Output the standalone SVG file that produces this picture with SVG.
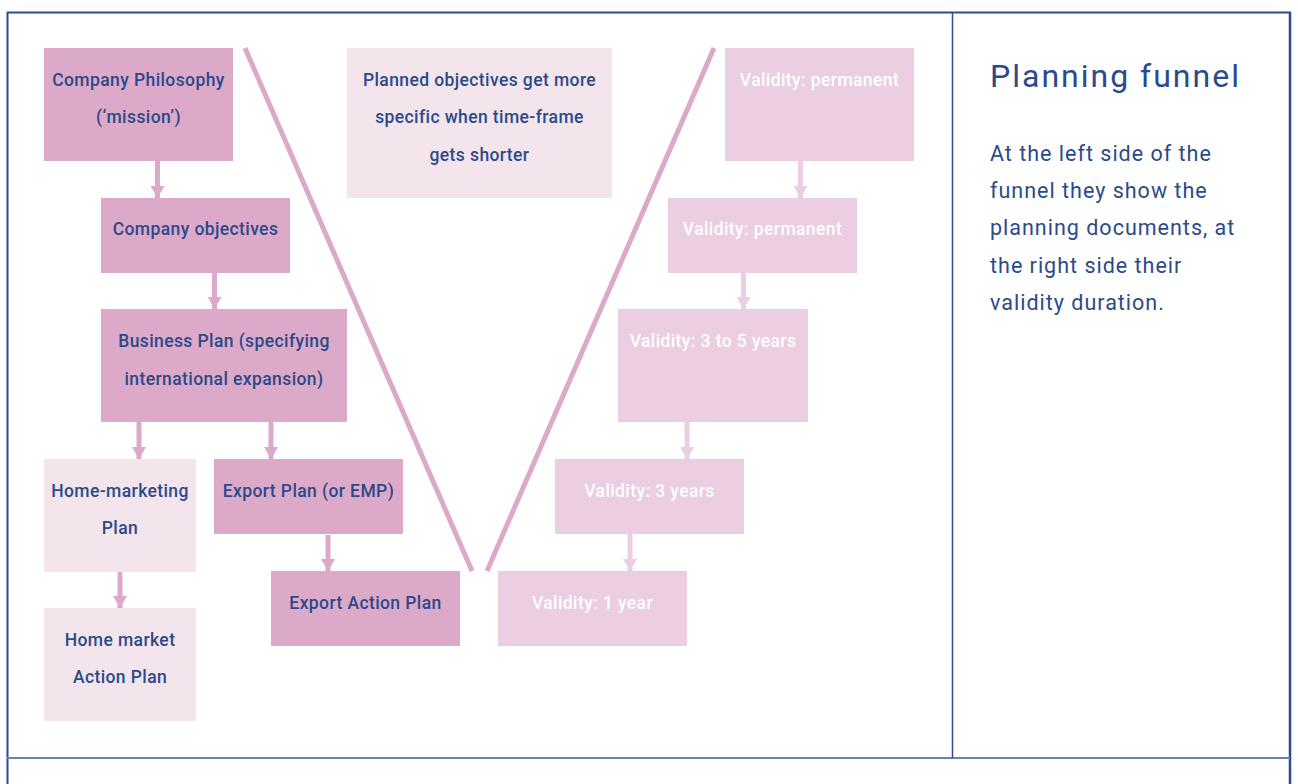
<svg xmlns="http://www.w3.org/2000/svg" width="1298" height="784" viewBox="0 0 1298 784">
<defs>
<style>
.dark{fill:#dda9c8}
.light{fill:#f4e5ed}
.mid{fill:#ebcee1}
.t{font-family:Roboto,"Liberation Sans",sans-serif;font-weight:500;font-size:17.5px;letter-spacing:0.4px;fill:#2b4a89;text-anchor:middle}
.w{font-family:Roboto,"Liberation Sans",sans-serif;font-weight:500;font-size:17.5px;letter-spacing:0.4px;fill:#ffffff;text-anchor:middle}
.side{font-family:Roboto,"Liberation Sans",sans-serif;font-size:21.5px;letter-spacing:1px;fill:#2b4a89}
.title{font-family:Roboto,"Liberation Sans",sans-serif;font-size:32px;letter-spacing:2px;fill:#2b4a89}
.sh{stroke:#dda9c8;stroke-width:5;fill:none}
.shm{stroke:#ebcee1;stroke-width:5;fill:none}
</style>
<marker id="ah" viewBox="0 0 12 14" refX="12" refY="7" markerWidth="12" markerHeight="14" markerUnits="userSpaceOnUse" orient="auto"><path d="M0,0 L12,7 L0,14 Z" fill="#dda9c8"/></marker>
<marker id="ahm" viewBox="0 0 12 14" refX="12" refY="7" markerWidth="12" markerHeight="14" markerUnits="userSpaceOnUse" orient="auto"><path d="M0,0 L12,7 L0,14 Z" fill="#ebcee1"/></marker>
</defs>
<rect width="1298" height="784" fill="#ffffff"/>
<g id="frame" fill="none">
<line x1="7.5" y1="12" x2="7.5" y2="784" stroke="#2e4b8c" stroke-width="2"/>
<line x1="1290" y1="12" x2="1290" y2="784" stroke="#2e4b8c" stroke-width="2.5"/>
<line x1="7" y1="12.5" x2="1291" y2="12.5" stroke="#2e4b8c" stroke-width="2"/>
<line x1="7" y1="758" x2="1290" y2="758" stroke="#6a80b0" stroke-width="2"/>
<line x1="952.5" y1="12" x2="952.5" y2="758" stroke="#2e4b8c" stroke-width="1.5"/>
</g>
<g id="funnel">
<line x1="245" y1="48" x2="472" y2="571" stroke="#dda9c8" stroke-width="5"/>
<line x1="714" y1="48" x2="487" y2="571" stroke="#dda9c8" stroke-width="5"/>
</g>
<g id="n-philosophy"><rect class="dark" x="44" y="48" width="189" height="113"/><text class="t" x="138.5" y="86">Company Philosophy</text><text class="t" x="138.5" y="123">(‘mission’)</text></g>
<g id="n-objectives"><rect class="dark" x="101" y="198" width="189" height="75"/><text class="t" x="195.5" y="235">Company objectives</text></g>
<g id="n-business"><rect class="dark" x="101" y="309" width="246" height="113"/><text class="t" x="224" y="347">Business Plan (specifying</text><text class="t" x="224" y="385">international expansion)</text></g>
<g id="n-homemkt"><rect class="light" x="44" y="459" width="152" height="113"/><text class="t" x="120" y="497">Home-marketing</text><text class="t" x="120" y="534">Plan</text></g>
<g id="n-export"><rect class="dark" x="214" y="459" width="189" height="75"/><text class="t" x="308.5" y="497">Export Plan (or EMP)</text></g>
<g id="n-exportaction"><rect class="dark" x="271" y="571" width="189" height="75"/><text class="t" x="365.5" y="609">Export Action Plan</text></g>
<g id="n-homeaction"><rect class="light" x="44" y="608" width="152" height="113"/><text class="t" x="120" y="646">Home market</text><text class="t" x="120" y="683">Action Plan</text></g>
<g id="n-note"><rect class="light" x="347" y="48" width="265" height="150"/><text class="t" x="479.5" y="86">Planned objectives get more</text><text class="t" x="479.5" y="123">specific when time-frame</text><text class="t" x="479.5" y="161">gets shorter</text></g>
<g id="n-v1"><rect class="mid" x="725" y="48" width="189" height="113"/><text class="w" x="819.5" y="86">Validity: permanent</text></g>
<g id="n-v2"><rect class="mid" x="668" y="198" width="189" height="75"/><text class="w" x="762.5" y="235">Validity: permanent</text></g>
<g id="n-v3"><rect class="mid" x="618" y="309" width="190" height="113"/><text class="w" x="713" y="347">Validity: 3 to 5 years</text></g>
<g id="n-v4"><rect class="mid" x="555" y="459" width="189" height="75"/><text class="w" x="649.5" y="497">Validity: 3 years</text></g>
<g id="n-v5"><rect class="mid" x="498" y="571" width="189" height="75"/><text class="w" x="592.5" y="609">Validity: 1 year</text></g>
<g id="connectors">
<line class="sh" x1="157.5" y1="161" x2="157.5" y2="198" marker-end="url(#ah)"/>
<line class="sh" x1="214.5" y1="273" x2="214.5" y2="309" marker-end="url(#ah)"/>
<line class="sh" x1="139" y1="422" x2="139" y2="459" marker-end="url(#ah)"/>
<line class="sh" x1="271" y1="422" x2="271" y2="459" marker-end="url(#ah)"/>
<line class="sh" x1="328" y1="535" x2="328" y2="571" marker-end="url(#ah)"/>
<line class="sh" x1="120" y1="572" x2="120" y2="608" marker-end="url(#ah)"/>
<line class="shm" x1="800.5" y1="161" x2="800.5" y2="198" marker-end="url(#ahm)"/>
<line class="shm" x1="743.5" y1="273" x2="743.5" y2="309" marker-end="url(#ahm)"/>
<line class="shm" x1="687" y1="422" x2="687" y2="459" marker-end="url(#ahm)"/>
<line class="shm" x1="630" y1="534" x2="630" y2="571" marker-end="url(#ahm)"/>
</g>
<g id="side">
<text class="title" x="990" y="87">Planning funnel</text>
<text class="side" x="990" y="161">At the left side of the</text>
<text class="side" x="990" y="198">funnel they show the</text>
<text class="side" x="990" y="235">planning documents, at</text>
<text class="side" x="990" y="273">the right side their</text>
<text class="side" x="990" y="310">validity duration.</text>
</g>
</svg>
